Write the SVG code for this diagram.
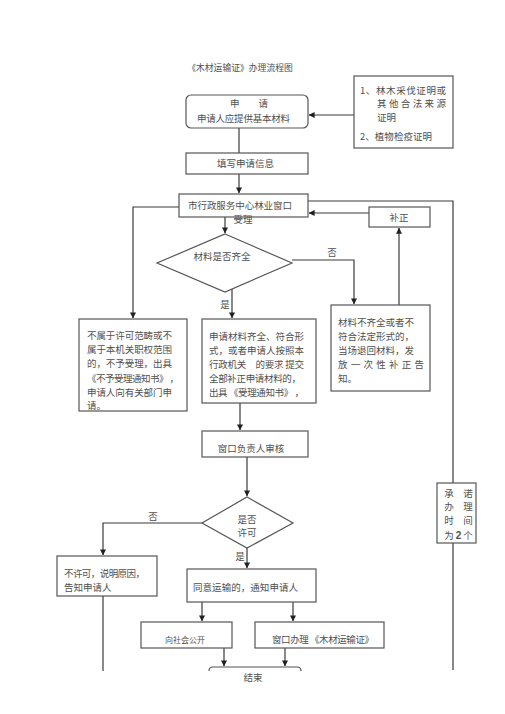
<svg xmlns="http://www.w3.org/2000/svg" width="505" height="714" viewBox="0 0 505 714">
<style>
text{font-family:"Noto Sans CJK SC","Noto Sans",sans-serif;font-size:9.5px;fill:#505050}
.box{fill:#fff;stroke:#555;stroke-width:1.2}
.ln{fill:none;stroke:#3a3a3a;stroke-width:1.2}
.c{text-anchor:middle}
.s{font-size:8px}
</style>
<defs>
<marker id="ah" viewBox="0 0 8 8" refX="7.5" refY="4" markerWidth="6" markerHeight="6" orient="auto" markerUnits="userSpaceOnUse">
<path d="M0,0 L8,4 L0,8 z" fill="#222"/>
</marker>
</defs>
<rect width="505" height="714" fill="#fff"/>
<text id="title" x="240" y="71" class="c" style="font-size:8.8px">《木材运输证》办理流程图</text>

<g id="connectors">
<line class="ln" x1="354" y1="115" x2="309" y2="115" marker-end="url(#ah)"/>
<line class="ln" x1="239" y1="128" x2="239" y2="153"/>
<line class="ln" x1="239" y1="174" x2="239" y2="193" marker-end="url(#ah)"/>
<polyline class="ln" points="308,201 453,201 453,670"/>
<polyline class="ln" points="179,207 133,207 133,318" marker-end="url(#ah)"/>
<line class="ln" x1="369" y1="213" x2="309" y2="213" marker-end="url(#ah)"/>
<line class="ln" x1="225" y1="217" x2="225" y2="233" marker-end="url(#ah)"/>
<polyline class="ln" points="292,260 354,260 354,304" marker-end="url(#ah)"/>
<line class="ln" x1="399" y1="305" x2="399" y2="228" marker-end="url(#ah)"/>
<line class="ln" x1="232" y1="289" x2="232" y2="318" marker-end="url(#ah)"/>
<line class="ln" x1="240" y1="403" x2="240" y2="430" marker-end="url(#ah)"/>
<line class="ln" x1="247" y1="457" x2="247" y2="496" marker-end="url(#ah)"/>
<polyline class="ln" points="202,523 103,523 103,555" marker-end="url(#ah)"/>
<line class="ln" x1="247" y1="548" x2="247" y2="568" marker-end="url(#ah)"/>
<line class="ln" x1="103" y1="596" x2="103" y2="671"/>
<line class="ln" x1="202" y1="602" x2="202" y2="621" marker-end="url(#ah)"/>
<line class="ln" x1="293" y1="602" x2="293" y2="621" marker-end="url(#ah)"/>
<line class="ln" x1="224" y1="648" x2="224" y2="666" marker-end="url(#ah)"/>
<line class="ln" x1="285" y1="648" x2="285" y2="666" marker-end="url(#ah)"/>
<text x="332" y="256" class="c">否</text>
<text x="225" y="308" class="c">是</text>
<text x="153" y="520" class="c">否</text>
<text x="240" y="560" class="c">是</text>
</g>

<g id="apply">
<rect class="box" x="186" y="95" width="122" height="33" rx="5"/>
<text x="249" y="106.5" class="c">申　　请</text>
<text x="197" y="121.5" textLength="93">申请人应提供基本材料</text>
</g>

<g id="materials">
<rect class="box" x="354" y="76" width="99" height="72"/>
<text x="360" y="93.5" textLength="86">1、林木采伐证明或</text>
<text x="377" y="107" textLength="69">其 他 合 法 来 源</text>
<text x="377" y="120.5">证明</text>
<text x="360" y="139.5" textLength="72">2、植物检疫证明</text>
</g>

<g id="fill">
<rect class="box" x="186" y="153" width="122" height="21"/>
<text x="245.5" y="166.5" class="c">填写申请信息</text>
</g>

<g id="accept">
<rect class="box" x="179" y="194" width="129" height="23"/>
<text x="188" y="208.5" textLength="104">市行政服务中心林业窗口</text>
<text x="243" y="222.5" class="c">受理</text>
</g>

<g id="correct">
<rect class="box" x="369" y="207" width="61" height="20"/>
<text x="399" y="220.5" class="c">补正</text>
</g>

<g id="check1">
<polygon class="box" points="225,234 292,263 225,292 157,263"/>
<text x="222" y="259.5" class="c">材料是否齐全</text>
</g>

<g id="reject">
<rect class="box" x="79" y="319" width="108" height="92"/>
<text x="87" y="338.5" textLength="85">不属于许可范畴或不</text>
<text x="87" y="352.5" textLength="85">属于本机关职权范围</text>
<text x="87" y="366.5" textLength="85">的，不予受理，出具</text>
<text x="87" y="381.5" textLength="92">《不予受理通知书》 ，</text>
<text x="87" y="395.5" textLength="85">申请人向有关部门申</text>
<text x="87" y="408.5">请。</text>
</g>

<g id="complete">
<rect class="box" x="202" y="319" width="114" height="84"/>
<text x="209" y="339.5" textLength="95">申请材料齐全、符合形</text>
<text x="209" y="353.5" textLength="95">式，或者申请人按照本</text>
<text x="209" y="367.5" textLength="95">行政机关　的要求  提交</text>
<text x="209" y="381.5" textLength="92">全部补正申请材料的，</text>
<text x="209" y="395.5" textLength="95">出具 《受理通知书》 ，</text>
</g>

<g id="incomplete">
<rect class="box" x="331" y="305" width="99" height="86"/>
<text x="338" y="325.5" textLength="76">材料不齐全或者不</text>
<text x="338" y="339.5" textLength="76">符合法定形式的，</text>
<text x="338" y="353.5" textLength="76">当场退回材料，发</text>
<text x="338" y="367.5" textLength="86">放 一 次 性 补 正 告</text>
<text x="338" y="381.5">知。</text>
</g>

<g id="review">
<rect class="box" x="202" y="431" width="106" height="26"/>
<text x="251" y="451.5" class="c">窗口负责人审核</text>
</g>

<g id="check2">
<polygon class="box" points="247,497 293,523 247,548 202,523"/>
<text x="247" y="522.5" class="c">是否</text>
<text x="247" y="535.5" class="c">许可</text>
</g>

<g id="promise">
<rect class="box" x="437" y="483" width="39" height="60"/>
<text x="449" y="496.5" class="c">承</text><text x="468" y="496.5" class="c">诺</text>
<text x="449" y="510" class="c">办</text><text x="468" y="510" class="c">理</text>
<text x="449" y="523.5" class="c">时</text><text x="468" y="523.5" class="c">间</text>
<text x="449" y="538.5" class="c">为</text><text x="458.5" y="538.5" class="c" style="font-weight:bold;font-family:'Liberation Sans',sans-serif;font-size:10px">2</text><text x="468" y="538.5" class="c">个</text>
</g>

<g id="deny">
<rect class="box" x="57" y="556" width="100" height="40"/>
<text x="64" y="576.5" textLength="81">不许可，说明原因，</text>
<text x="64" y="590.5">告知申请人</text>
</g>

<g id="approve">
<rect class="box" x="187" y="569" width="129" height="33"/>
<text x="193" y="590.5" textLength="105">同意运输的，通知申请人</text>
</g>

<g id="publish">
<rect class="box" x="141" y="622" width="91" height="26"/>
<text x="185" y="642.5" class="c s">向社会公开</text>
</g>

<g id="issue">
<rect class="box" x="255" y="622" width="129" height="26"/>
<text x="272" y="643" textLength="102">窗口办理 《木材运输证》</text>
</g>

<g id="end">
<path class="ln" d="M209,671 Q209,667 213,667 L297,667 Q301,667 301,671" style="stroke:#555"/>
<text x="253" y="680.5" class="c">结束</text>
</g>
</svg>
